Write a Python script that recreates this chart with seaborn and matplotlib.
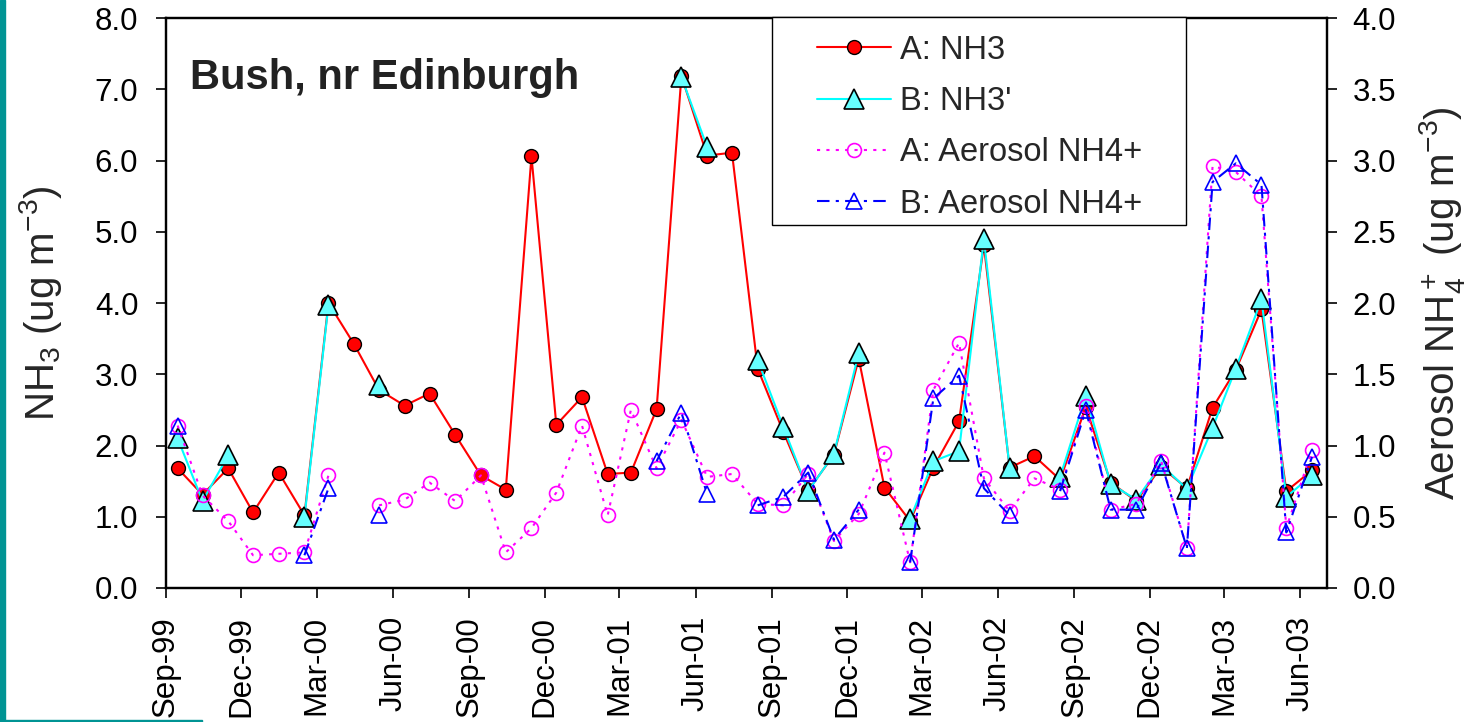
import numpy as np
import pandas as pd
import matplotlib
matplotlib.use("Agg")
import matplotlib.pyplot as plt
import matplotlib.dates as mdates
from matplotlib.lines import Line2D
from matplotlib.patches import Rectangle
import seaborn as sns

# monthly samples, Sep-99 .. Jun-03 (plotted mid-month)
months = pd.date_range("1999-09-01", "2003-06-01", freq="MS") + pd.Timedelta(days=14)

nan = np.nan
nh3_a = [1.68, 1.31, 1.68, 1.06, 1.62, 1.02, 4.00, 3.42, 2.78, 2.56, 2.73, 2.15,
         1.58, 1.38, 6.06, 2.29, 2.68, 1.60, 1.62, 2.51, 7.19, 6.07, 6.11, 3.08,
         2.19, 1.37, 1.87, 3.22, 1.41, 0.94, 1.69, 2.34, 4.81, 1.69, 1.85, 1.52,
         2.54, 1.48, 1.22, 1.70, 1.40, 2.53, 3.06, 3.91, 1.36, 1.65]
nh3_b = [2.10, 1.22, 1.86, nan, nan, 0.99, 3.97, nan, 2.85, nan, nan, nan,
         nan, nan, nan, nan, nan, nan, nan, nan, 7.17, 6.19, nan, 3.20,
         2.26, 1.36, 1.88, 3.30, nan, 0.97, 1.78, 1.92, 4.90, 1.69, nan, 1.56,
         2.70, 1.46, 1.24, 1.73, 1.39, 2.25, 3.08, 4.05, 1.28, 1.58]
aer_a = [1.14, 0.65, 0.47, 0.23, 0.24, 0.25, 0.79, nan, 0.58, 0.62, 0.74, 0.61,
         0.79, 0.25, 0.42, 0.67, 1.14, 0.51, 1.25, 0.84, 1.18, 0.78, 0.80, 0.59,
         0.58, 0.80, 0.33, 0.52, 0.95, 0.18, 1.39, 1.72, 0.77, 0.54, 0.77, 0.69,
         1.28, 0.55, 0.59, 0.89, 0.28, 2.96, 2.92, 2.75, 0.42, 0.97]
aer_b = [1.14, nan, nan, nan, nan, 0.23, 0.70, nan, 0.51, nan, nan, nan,
         nan, nan, nan, nan, nan, nan, nan, 0.89, 1.23, 0.66, nan, 0.58,
         0.64, 0.81, 0.34, 0.55, nan, 0.18, 1.33, 1.49, 0.70, 0.51, nan, 0.68,
         1.25, 0.55, 0.55, 0.88, 0.28, 2.85, 2.98, 2.83, 0.39, 0.92]

labels = ["A: NH3", "B: NH3'", "A: Aerosol NH4+", "B: Aerosol NH4+"]


def segments(values):
    # missing months break the line, like Excel's gaps
    df = pd.DataFrame({"date": months, "val": values})
    df["seg"] = df["val"].isna().cumsum()
    return df.dropna()


sns.set_style("ticks")
plt.rcParams["font.family"] = ["Liberation Sans", "DejaVu Sans"]
plt.rcParams["mathtext.fontset"] = "custom"
plt.rcParams["mathtext.rm"] = "Liberation Sans"
plt.rcParams["mathtext.it"] = "Liberation Sans:italic"

fig = plt.figure(figsize=(14.76, 7.22), dpi=100)
ax = fig.add_axes([0.1125, 0.1856, 0.899 - 0.1125, 0.975 - 0.1856])
ax2 = ax.twinx()

styles = [
    dict(color="#FF0000", marker="o", markersize=10, markerfacecolor="#FF0000",
         markeredgecolor="black", markeredgewidth=1.0, linewidth=1.5, linestyle="-"),
    dict(color="#00FFFF", marker="^", markersize=14, markerfacecolor="#66FFFF",
         markeredgecolor="black", markeredgewidth=1.2, linewidth=1.5, linestyle="-"),
    dict(color="#FF00FF", marker="o", markersize=10, markerfacecolor="none",
         markeredgecolor="#FF00FF", markeredgewidth=1.2, linewidth=1.5,
         linestyle=(0, (1.5, 3))),
    dict(color="#0000FF", marker="^", markersize=11, markerfacecolor="none",
         markeredgecolor="#0000FF", markeredgewidth=1.2, linewidth=1.5,
         linestyle=(0, (6, 3, 1.5, 3))),
]

for vals, st, axis in [(nh3_a, styles[0], ax), (nh3_b, styles[1], ax),
                       (aer_a, styles[2], ax2), (aer_b, styles[3], ax2)]:
    sns.lineplot(data=segments(vals), x="date", y="val", units="seg",
                 estimator=None, ax=axis, legend=False, **st)

start, end = pd.Timestamp("1999-09-01"), pd.Timestamp("2003-07-03")
ax.set_xlim(start, end)
ax.set_ylim(0, 8)
ax2.set_ylim(0, 4)
ax.set_yticks(np.arange(0, 8.1, 1))
ax2.set_yticks(np.arange(0, 4.01, 0.5))
ax.yaxis.set_major_formatter(matplotlib.ticker.FormatStrFormatter("%.1f"))
ax2.yaxis.set_major_formatter(matplotlib.ticker.FormatStrFormatter("%.1f"))
ax.xaxis.set_major_locator(mdates.MonthLocator(bymonth=[3, 6, 9, 12]))
ax.xaxis.set_major_formatter(mdates.DateFormatter("%b-%y"))

for a in (ax, ax2):
    a.set_xlabel("")
    a.tick_params(axis="both", direction="out", length=7, width=1.2,
                  labelsize=22.5, colors="black", pad=13)
    for sp in a.spines.values():
        sp.set_visible(True)
        sp.set_color("black")
        sp.set_linewidth(1.6)
ax.tick_params(axis="x", labelrotation=90)
ax2.tick_params(axis="y", pad=11.5)

ax.set_ylabel("NH$_3$ (ug m$^{-3}$)", fontsize=29, labelpad=22)
ax2.set_ylabel("Aerosol NH$_4^+$ (ug m$^{-3}$)", fontsize=29, labelpad=15)

ax.text(0.021, 0.895, "Bush, nr Edinburgh", transform=ax.transAxes,
        fontsize=30, fontweight="bold", color="#222222", va="center", ha="left")

# legend box drawn by hand so the padding matches the Excel layout
ax2.add_patch(Rectangle((0.522, 0.6368), 0.8786 - 0.522, 1.0018 - 0.6368,
                        transform=ax2.transAxes, facecolor="white",
                        edgecolor="black", linewidth=1.0, clip_on=False, zorder=4))
handles = [Line2D([], [], **st) for st in styles]
leg = ax2.legend(handles, labels, loc="upper left", bbox_to_anchor=(0.5607, 0.9705),
                 borderaxespad=0, borderpad=0, fontsize=23.5, frameon=False,
                 handlelength=2.27, handletextpad=0.28, labelspacing=0.62)
leg.set_zorder(5)

# slide decoration: teal edge on the left and short rule at bottom
fig.patches.append(Rectangle((0, 0), 5 / 1476, 1, transform=fig.transFigure,
                             color="#009494", zorder=10))
fig.patches.append(Rectangle((0, 0), 202 / 1476, 2.5 / 722, transform=fig.transFigure,
                             color="#009494", zorder=10))

fig.savefig("out.png", dpi=100)
